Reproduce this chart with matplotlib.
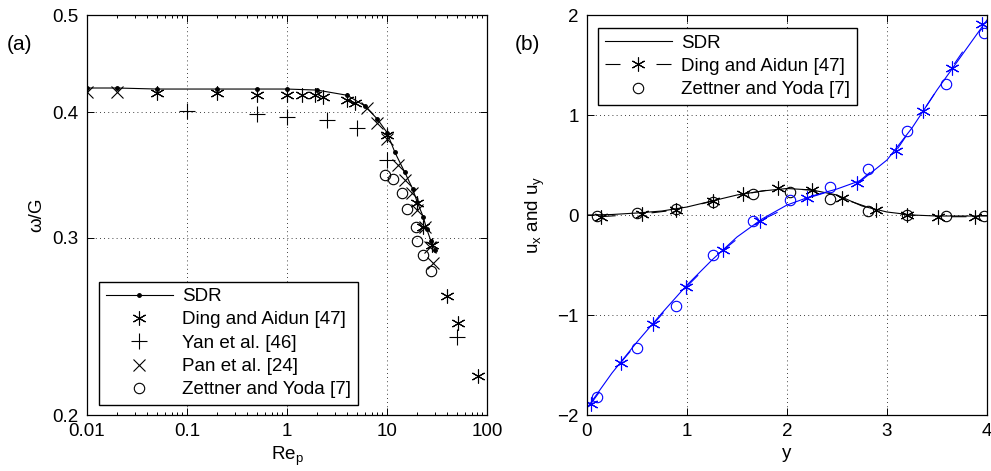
import matplotlib as mpl
import matplotlib.pyplot as plt
from matplotlib.ticker import FixedLocator, NullLocator, LogLocator, NullFormatter

mpl.use('Agg')

plt.rcParams['font.family'] = ['Liberation Sans', 'DejaVu Sans']
plt.rcParams['mathtext.default'] = 'regular'
plt.rcParams['font.size'] = 13.5

# (a) rotation rate vs particle Reynolds number
sdr_re = [0.01, 0.02, 0.05, 0.2, 0.5, 1, 2, 4, 6, 8, 10, 12, 15, 18, 20, 23, 25, 27.5, 30]
sdr_w = [0.423, 0.423, 0.422, 0.422, 0.422, 0.422, 0.421, 0.416, 0.406, 0.394, 0.382,
         0.365, 0.349, 0.336, 0.326, 0.315, 0.306, 0.298, 0.292]

ding_re = [0.05, 0.2, 0.5, 1, 1.4, 1.9, 2.3, 4, 4.8, 10, 20, 23, 28, 40, 51, 81]
ding_w = [0.418, 0.418, 0.416, 0.416, 0.416, 0.416, 0.414, 0.4115, 0.4087, 0.380,
          0.325, 0.308, 0.295, 0.2627, 0.247, 0.2187]

yan_re = [0.1, 0.5, 1, 2.5, 5, 10, 50]
yan_w = [0.401, 0.3985, 0.396, 0.393, 0.386, 0.359, 0.239]

pan_re = [0.01, 0.02, 6.3, 8, 10, 12.9, 15, 17.8, 20, 23.9, 26.9, 28.8]
pan_w = [0.419, 0.419, 0.404, 0.390, 0.376, 0.3546, 0.3425, 0.3325, 0.320, 0.3077, 0.2937, 0.283]

zet_re = [9.5, 11.5, 14.1, 15.8, 19.5, 20, 22.9, 27.5]
zet_w = [0.3466, 0.3434, 0.3325, 0.3206, 0.3076, 0.2977, 0.2885, 0.278]

# (b) velocity profiles
sdr_y = [0, 0.25, 0.5, 0.75, 1.0, 1.25, 1.5, 1.75, 2.0, 2.25, 2.5, 2.75, 3.0, 3.25, 3.5, 3.75, 4.0]
sdr_ux = [0.0, 0.005, 0.02, 0.04, 0.08, 0.14, 0.2, 0.24, 0.265, 0.25, 0.2, 0.09, 0.03, 0.0,
          -0.01, -0.01, -0.01]
sdr_uy = [-1.93, -1.58, -1.27, -0.98, -0.70, -0.45, -0.22, -0.04, 0.10, 0.19, 0.26, 0.35,
          0.55, 0.87, 1.25, 1.60, 1.95]

ding_yx = [0.137, 0.547, 0.887, 1.263, 1.563, 1.913, 2.247, 2.547, 2.89, 3.197, 3.513, 3.88]
ding_ux = [-0.017, 0.01, 0.05, 0.14, 0.207, 0.267, 0.25, 0.167, 0.05, 0.0, -0.017, -0.017]
ding_yy = [0.037, 0.337, 0.663, 0.99, 1.363, 1.73, 2.197, 2.697, 3.09, 3.363, 3.647, 3.947]
ding_uy = [-1.89, -1.477, -1.09, -0.723, -0.35, -0.057, 0.167, 0.317, 0.64, 1.043, 1.473, 1.91]

zet_y = [0.103, 0.497, 0.887, 1.263, 1.657, 2.03, 2.43, 2.813, 3.2, 3.587, 3.97]
zet_ux = [-0.01, 0.017, 0.057, 0.133, 0.21, 0.233, 0.157, 0.043, 0.0, -0.01, -0.01]
zet_uy = [-1.823, -1.327, -0.907, -0.4, -0.063, 0.15, 0.283, 0.457, 0.843, 1.31, 1.817]

star = (6, 2, 0)
grid_kw = dict(color='black', linestyle=(0, (1, 4)), linewidth=0.6)
leg_kw = dict(borderaxespad=0, fancybox=False, framealpha=1, edgecolor='black',
              handlelength=3.6, handletextpad=0.5, labelspacing=0.33, borderpad=0.35,
              fontsize=13.5)

fig = plt.figure(figsize=(9.91, 4.71), dpi=100)
ax0 = fig.add_axes([87 / 991, 56 / 471, 400 / 991, 400 / 471])
ax1 = fig.add_axes([587 / 991, 56 / 471, 400 / 991, 400 / 471])

ax0.plot(sdr_re, sdr_w, color='black', lw=0.8, marker='.', ms=5, label='SDR')
ax0.plot(ding_re, ding_w, ls='none', color='black', marker=star, ms=10, mew=0.8,
         label='Ding and Aidun [47]')
ax0.plot(yan_re, yan_w, ls='none', color='black', marker='+', ms=12, mew=0.8,
         label='Yan et al. [46]')
ax0.plot(pan_re, pan_w, ls='none', color='black', marker='x', ms=8, mew=0.8,
         label='Pan et al. [24]')
ax0.plot(zet_re, zet_w, ls='none', color='black', marker='o', mfc='none', ms=7.5, mew=0.8,
         label='Zettner and Yoda [7]')

ax0.set_xscale('log')
ax0.set_yscale('log')
ax0.set_xlim(0.01, 100)
ax0.set_ylim(0.2, 0.5)
ax0.xaxis.set_major_locator(FixedLocator([0.01, 0.1, 1, 10, 100]))
ax0.xaxis.set_minor_locator(LogLocator(base=10, subs=range(2, 10)))
ax0.xaxis.set_minor_formatter(NullFormatter())
ax0.set_xticklabels(['0.01', '0.1', '1', '10', '100'])
ax0.yaxis.set_major_locator(FixedLocator([0.2, 0.3, 0.4, 0.5]))
ax0.yaxis.set_minor_locator(NullLocator())
ax0.set_yticklabels(['0.2', '0.3', '0.4', '0.5'])
ax0.grid(True, which='major', **grid_kw)
ax0.set_xlabel('Re$_p$')
ax0.set_ylabel('\u03c9/G')
ax0.xaxis.set_label_coords(0.5, -0.075)
ax0.yaxis.set_label_coords(-0.105, 0.5)
ax0.legend(loc='lower left', bbox_to_anchor=(0.03, 0.025), **leg_kw)

ax1.plot(sdr_y, sdr_ux, color='black', lw=0.8, label='SDR')
ax1.plot(sdr_y, sdr_uy, color='blue', lw=0.8)
ax1.plot(ding_yx, ding_ux, color='black', lw=0.8, dashes=(13.5, 32.4), marker=star, ms=10,
         mew=0.8, label='Ding and Aidun [47]')
ax1.plot(ding_yy, ding_uy, color='blue', lw=0.8, dashes=(13.5, 32.4), marker=star, ms=10,
         mew=0.8)
ax1.plot(zet_y, zet_ux, ls='none', color='black', marker='o', mfc='none', ms=7.5, mew=0.8,
         label='Zettner and Yoda [7]')
ax1.plot(zet_y, zet_uy, ls='none', color='blue', marker='o', mfc='none', ms=7.5, mew=0.8)

ax1.set_xlim(0, 4)
ax1.set_ylim(-2, 2)
ax1.set_xticks([0, 1, 2, 3, 4])
ax1.set_yticks([-2, -1, 0, 1, 2])
ax1.set_yticklabels(['\u22122', '\u22121', '0', '1', '2'])
ax1.grid(True, **grid_kw)
ax1.set_xlabel('y')
ax1.set_ylabel('u$_x$ and u$_y$')
ax1.xaxis.set_label_coords(0.5, -0.075)
ax1.yaxis.set_label_coords(-0.1, 0.5)
ax1.legend(loc='upper left', bbox_to_anchor=(0.0275, 0.9675), **leg_kw)

for ax in (ax0, ax1):
    ax.tick_params(which='both', direction='in', top=True, right=True, width=0.7)
    ax.tick_params(which='major', length=5, pad=6)
    ax.tick_params(which='minor', length=2.5)
    for sp in ax.spines.values():
        sp.set_linewidth(0.9)

fig.text(20 / 991, 1 - 44 / 471, '(a)', ha='center', va='center', fontsize=15)
fig.text(527 / 991, 1 - 44 / 471, '(b)', ha='center', va='center', fontsize=15)

fig.savefig('out.png', dpi=100)
plt.close('all')
